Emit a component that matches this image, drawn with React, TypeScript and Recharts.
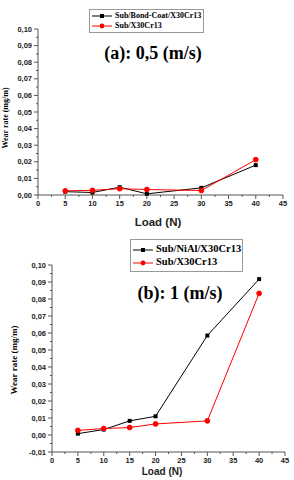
import React from "react";
import { LineChart, Line, XAxis, YAxis } from "recharts";

const loads = [5, 10, 15, 20, 30, 40];

// (a) 0,5 m/s
const wearBondCoatA = [0.002, 0.0015, 0.0047, 0.0007, 0.0043, 0.018];
const wearSubA = [0.0025, 0.0028, 0.0038, 0.0033, 0.0027, 0.0213];

// (b) 1 m/s
const wearNiAlB = [0.0008, 0.0032, 0.0083, 0.011, 0.0585, 0.0917];
const wearSubB = [0.0027, 0.0038, 0.0044, 0.0065, 0.0083, 0.0833];

const xTicks = [0, 2.5, 5, 7.5, 10, 12.5, 15, 17.5, 20, 22.5, 25, 27.5, 30, 32.5, 35, 37.5, 40, 42.5, 45];
const yTicksA = [0, 0.005, 0.01, 0.015, 0.02, 0.025, 0.03, 0.035, 0.04, 0.045, 0.05, 0.055, 0.06, 0.065, 0.07, 0.075, 0.08, 0.085, 0.09, 0.095, 0.1];
const yTicksB = [-0.01, -0.005, ...yTicksA];

const dataA = loads.map((load, i) => ({ load, bond: wearBondCoatA[i], sub: wearSubA[i] }));
const dataB = loads.map((load, i) => ({ load, nial: wearNiAlB[i], sub: wearSubB[i] }));

const AXIS = "#555";
const RED = "#ff0000";
const tickFont = { fontFamily: "Liberation Sans, Arial, sans-serif", fontSize: 7.5, fontWeight: 700, fill: "#222" };

const XTick = (p: any) => {
  const v = p.payload.value;
  const major = v % 5 === 0;
  return (
    <g>
      <line x1={p.x} x2={p.x} y1={p.y} y2={p.y + (major ? 4 : 2)} stroke={AXIS} />
      {major && (
        <text x={p.x} y={p.y + 11} textAnchor="middle" {...tickFont}>
          {v}
        </text>
      )}
    </g>
  );
};

const YTick = (p: any) => {
  const v = p.payload.value;
  const major = Math.round(v * 1000) % 10 === 0;
  return (
    <g>
      <line x1={p.x} x2={p.x - (major ? 4 : 2)} y1={p.y} y2={p.y} stroke={AXIS} />
      {major && (
        <text x={p.x - 6} y={p.y} dy="0.35em" textAnchor="end" {...tickFont}>
          {v.toFixed(2).replace(".", ",")}
        </text>
      )}
    </g>
  );
};

const squareDot = (p: any) => (
  <rect key={p.key} x={p.cx - 2} y={p.cy - 2} width={4} height={4} fill="#000" />
);

const abs = (left: number, top: number, extra: React.CSSProperties = {}): React.CSSProperties => ({
  position: "absolute",
  left,
  top,
  transform: "translate(-50%, -50%)",
  whiteSpace: "nowrap",
  lineHeight: 1,
  ...extra,
});

const serifBold: React.CSSProperties = { fontFamily: "Liberation Serif, Times New Roman, serif", fontWeight: 700 };
const sansBold: React.CSSProperties = { fontFamily: "Liberation Sans, Arial, sans-serif", fontWeight: 700 };

function LegendBox({ left, top, width, height, rowH, padTop, fontSize, names }: any) {
  return (
    <div
      style={{
        position: "absolute",
        left,
        top,
        width,
        height,
        boxSizing: "border-box",
        border: "1px solid #999",
        background: "#fff",
        paddingTop: padTop,
        whiteSpace: "nowrap",
        ...serifBold,
        fontSize,
      }}
    >
      {names.map((n: string, i: number) => (
        <div key={n} style={{ display: "flex", alignItems: "center", height: rowH, lineHeight: 1 }}>
          <svg width={22} height={8} style={{ marginLeft: 1, marginRight: 2, flex: "none" }}>
            <line x1={1} x2={21} y1={4} y2={4} stroke={i === 0 ? "#000" : RED} />
            {i === 0 ? <rect x={9} y={2} width={4} height={4} fill="#000" /> : <circle cx={11} cy={4} r={2.4} fill={RED} />}
          </svg>
          <span>{n}</span>
        </div>
      ))}
    </div>
  );
}

export default function App() {
  return (
    <div style={{ position: "absolute", left: 0, top: 0, width: 294, height: 480, background: "#fff" }}>
      <div style={{ position: "absolute", left: 0, top: 0 }}>
        <LineChart width={294} height={240} data={dataA} margin={{ top: 29, right: 11, left: 0, bottom: 0 }}>
          <XAxis
            dataKey="load"
            type="number"
            domain={[0, 45]}
            ticks={xTicks}
            interval={0}
            height={45}
            tickSize={0}
            tickMargin={0}
            tickLine={false}
            stroke={AXIS}
            tick={<XTick />}
          />
          <YAxis
            type="number"
            domain={[0, 0.1]}
            ticks={yTicksA}
            interval={0}
            width={38}
            tickSize={0}
            tickMargin={0}
            tickLine={false}
            stroke={AXIS}
            tick={<YTick />}
          />
          <Line dataKey="bond" stroke="#000" strokeWidth={1} dot={squareDot} isAnimationActive={false} />
          <Line dataKey="sub" stroke={RED} strokeWidth={1} dot={{ r: 2.4, fill: RED, stroke: RED }} isAnimationActive={false} />
        </LineChart>
      </div>
      <div style={{ position: "absolute", left: 0, top: 240 }}>
        <LineChart width={294} height={240} data={dataB} margin={{ top: 25, right: 9, left: 0, bottom: 0 }}>
          <XAxis
            dataKey="load"
            type="number"
            domain={[0, 45]}
            ticks={xTicks}
            interval={0}
            height={28}
            tickSize={0}
            tickMargin={0}
            tickLine={false}
            stroke={AXIS}
            tick={<XTick />}
          />
          <YAxis
            type="number"
            domain={[-0.01, 0.1]}
            ticks={yTicksB}
            interval={0}
            width={52}
            tickSize={0}
            tickMargin={0}
            tickLine={false}
            stroke={AXIS}
            tick={<YTick />}
          />
          <Line dataKey="nial" stroke="#000" strokeWidth={1} dot={squareDot} isAnimationActive={false} />
          <Line dataKey="sub" stroke={RED} strokeWidth={1} dot={{ r: 2.4, fill: RED, stroke: RED }} isAnimationActive={false} />
        </LineChart>
      </div>

      <div style={abs(153, 53, { ...serifBold, fontSize: 18 })}>(a): 0,5 (m/s)</div>
      <div style={abs(180, 293, { ...serifBold, fontSize: 18 })}>(b): 1 (m/s)</div>

      <div style={abs(6, 118, { ...serifBold, fontSize: 8, transform: "translate(-50%, -50%) rotate(-90deg)" })}>Wear rate (mg/m)</div>
      <div style={abs(14, 360, { ...serifBold, fontSize: 9, transform: "translate(-50%, -50%) rotate(-90deg)" })}>Wear rate (mg/m)</div>

      <div style={abs(158, 223, { ...sansBold, fontSize: 11.5, color: "#222" })}>Load (N)</div>
      <div style={abs(162, 472, { ...sansBold, fontSize: 10, color: "#222" })}>Load (N)</div>

      <LegendBox left={89} top={9} width={115} height={24} rowH={10} padTop={1} fontSize={8} names={["Sub/Bond-Coat/X30Cr13", "Sub/X30Cr13"]} />
      <LegendBox left={130} top={239} width={113} height={33} rowH={13} padTop={3} fontSize={10.5} names={["Sub/NiAl/X30Cr13", "Sub/X30Cr13"]} />
    </div>
  );
}
